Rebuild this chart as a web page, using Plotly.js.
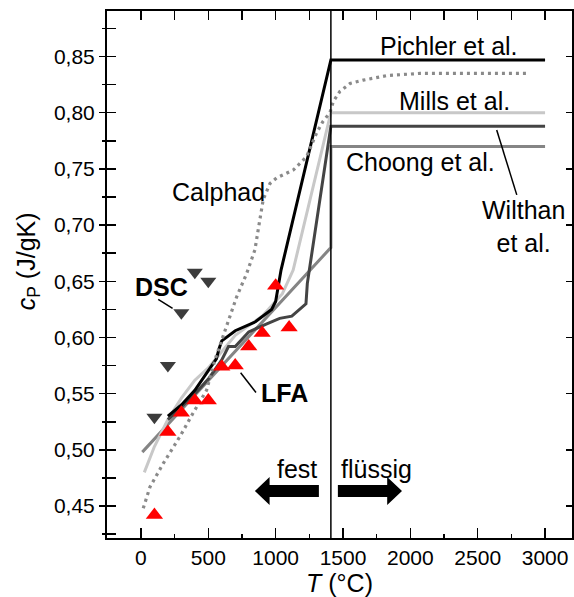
<!DOCTYPE html>
<html><head><meta charset="utf-8">
<script src="https://cdn.plot.ly/plotly-3.0.1.min.js"></script>
<style>html,body{margin:0;padding:0;background:#fff}#chart{width:574px;height:597px}</style>
</head><body><div id="chart"></div>
<script>
// ---- data ----
const lfaT = [100, 200, 300, 400, 500, 600, 700, 800, 900, 1000, 1100];
const lfaCp = [0.442, 0.516, 0.533, 0.544, 0.544, 0.574, 0.575, 0.592, 0.604, 0.646, 0.609];
const dscT = [100, 200, 300, 400, 500];
const dscCp = [0.529, 0.575, 0.622, 0.658, 0.650];
const pichlerT = [200, 300, 400, 500, 560, 580, 600, 700, 850, 970, 1000, 1040, 1410, 3000];
const pichlerCp = [0.530, 0.540, 0.553, 0.570, 0.581, 0.590, 0.597, 0.606, 0.614, 0.625, 0.632, 0.660, 0.847, 0.847];
const millsT = [25, 100, 200, 300, 400, 500, 700, 900, 1050, 1130, 1410, 3000];
const millsCp = [0.480, 0.503, 0.527, 0.546, 0.562, 0.573, 0.602, 0.619, 0.639, 0.660, 0.800, 0.800];
const wilthanT = [200, 300, 400, 500, 600, 650, 700, 800, 930, 1030, 1120, 1180, 1225, 1235, 1410, 3000];
const wilthanCp = [0.527, 0.538, 0.550, 0.563, 0.580, 0.592, 0.592, 0.605, 0.612, 0.617, 0.619, 0.625, 0.630, 0.648, 0.788, 0.788];
const choongT = [10, 1410, 1410, 3000];
const choongCp = [0.498, 0.680, 0.770, 0.770];
const calphadT = [17, 67, 166, 290, 388, 487, 549, 636, 710, 785, 846, 883, 908, 958, 1007, 1131, 1230, 1304, 1350, 1403, 1428, 1477, 1552, 1650, 1824, 2071, 2877];
const calphadCp = [0.448, 0.467, 0.488, 0.512, 0.533, 0.553, 0.580, 0.610, 0.636, 0.657, 0.678, 0.705, 0.723, 0.737, 0.742, 0.749, 0.761, 0.782, 0.792, 0.800, 0.810, 0.819, 0.826, 0.829, 0.833, 0.835, 0.835];
const meltT = 1410;
const xTicks = [0, 500, 1000, 1500, 2000, 2500, 3000];

const FONT = 'Liberation Sans, Arial, sans-serif';
const xr = [-252, 3200];
const yr = [0.4216, 0.8905];

const traces = [
  {x: choongT, y: choongCp, mode: 'lines', line: {color: '#858585', width: 3}},
  {x: millsT, y: millsCp, mode: 'lines', line: {color: '#c8c8c8', width: 3}},
  {x: wilthanT, y: wilthanCp, mode: 'lines', line: {color: '#444444', width: 3}},
  {x: pichlerT, y: pichlerCp, mode: 'lines', line: {color: '#000000', width: 3}},
  {x: calphadT, y: calphadCp, mode: 'lines', line: {color: '#8a8a8a', width: 3.2, dash: '3px,4px'}},
  {x: dscT, y: dscCp, mode: 'markers', marker: {symbol: 'triangle-down', size: 14, color: '#3c3c3c'}},
  {x: lfaT, y: lfaCp, mode: 'markers', marker: {symbol: 'triangle-up', size: 15, color: '#ff0000'}},
  // carriers for the tick-only overlay axes
  {x: [0], y: [0.6], xaxis: 'x2', yaxis: 'y', mode: 'markers', marker: {opacity: 0}, hoverinfo: 'skip'},
  {x: [0], y: [0.6], xaxis: 'x', yaxis: 'y2', mode: 'markers', marker: {opacity: 0}, hoverinfo: 'skip'},
  {x: [0], y: [0.6], xaxis: 'x', yaxis: 'y3', mode: 'markers', marker: {opacity: 0}, hoverinfo: 'skip'}
];
traces.forEach(t => { t.showlegend = false; });

function ann(text, x, y, bold, extra) {
  return Object.assign({text: bold ? '<b>' + text + '</b>' : text, x: x, y: y, xref: 'x', yref: 'y',
    showarrow: false, xanchor: 'center', yanchor: 'middle',
    font: {family: FONT, size: 25, color: '#000'}}, extra || {});
}

const annotations = [
  ann('Pichler et al.', 2290, 0.8593),
  ann('Mills et al.', 2324, 0.8104),
  ann('Choong et al.', 2075, 0.7561),
  ann('Wilthan<br>et al.', 2843, 0.699),
  ann('Calphad', 573, 0.7294),
  ann('DSC', 153, 0.6445, true),
  ann('LFA', 1064, 0.5506, true),
  ann('fest', 1156, 0.4826),
  ann('flüssig', 1752, 0.4826),
  {text: '<i>c</i><sub>P</sub> (J/gK)', xref: 'paper', yref: 'paper', x: -0.17, y: 0.525,
   xanchor: 'center', yanchor: 'middle', textangle: -90, showarrow: false,
   font: {family: FONT, size: 25, color: '#000'}}
];

const lineStyle = {color: '#000', width: 1.5};
const shapes = [
  {type: 'line', xref: 'x', yref: 'paper', x0: meltT, x1: meltT, y0: 0, y1: 1, line: {color: '#000', width: 1.5}},
  {type: 'line', xref: 'x', yref: 'y', x0: 2641, y0: 0.7846, x1: 2790, y1: 0.7269, line: lineStyle},
  {type: 'line', xref: 'x', yref: 'y', x0: 128, y0: 0.634, x1: 235, y1: 0.626, line: lineStyle},
  {type: 'line', xref: 'x', yref: 'y', x0: 740, y0: 0.5687, x1: 854, y1: 0.551, line: lineStyle},
  {type: 'path', xref: 'x', yref: 'y', fillcolor: '#000', line: {width: 0},
   path: 'M846,0.4634 L955,0.4759 L955,0.4687 L1321,0.4687 L1321,0.4581 L955,0.4581 L955,0.4510 Z'},
  {type: 'path', xref: 'x', yref: 'y', fillcolor: '#000', line: {width: 0},
   path: 'M1462,0.4687 L1828,0.4687 L1828,0.4759 L1938,0.4634 L1828,0.4510 L1828,0.4581 L1462,0.4581 Z'}
];

const layout = {
  width: 574, height: 597,
  margin: {l: 107, r: 2, t: 11, b: 59, pad: 0},
  paper_bgcolor: '#fff', plot_bgcolor: '#fff',
  separators: ', ',
  font: {family: FONT, size: 21, color: '#000'},
  xaxis: {
    range: xr, autorange: false, showgrid: false, zeroline: false,
    showline: true, linecolor: '#000', linewidth: 2, mirror: true,
    tickmode: 'array', tickvals: xTicks, ticktext: xTicks.map(String),
    ticks: 'inside', ticklen: 10, tickwidth: 1.5, tickcolor: '#000',
    minor: {dtick: 250, tick0: 0, ticks: 'inside', ticklen: 4, tickwidth: 1.5, tickcolor: '#000'},
    tickfont: {family: FONT, size: 21},
    title: {text: '<i>T</i> (°C)', font: {family: FONT, size: 25}, standoff: 4}
  },
  xaxis2: {
    overlaying: 'x', side: 'top', anchor: 'y', range: xr, autorange: false,
    showgrid: false, zeroline: false, showline: false, showticklabels: false,
    tickmode: 'linear', tick0: 0, dtick: 250,
    ticks: 'inside', ticklen: 9, tickwidth: 1.5, tickcolor: '#000'
  },
  yaxis: {
    range: yr, autorange: false, showgrid: false, zeroline: false,
    showline: true, linecolor: '#000', linewidth: 2, mirror: true,
    tickmode: 'linear', tick0: 0, dtick: 0.05, tickformat: '.2f',
    ticks: 'outside', ticklen: 6, tickwidth: 1.5, tickcolor: '#000',
    minor: {dtick: 0.025, tick0: 0, ticks: 'outside', ticklen: 3, tickwidth: 1.5, tickcolor: '#000'},
    tickfont: {family: FONT, size: 21}
  },
  yaxis2: {
    overlaying: 'y', side: 'left', anchor: 'x', range: yr, autorange: false,
    showgrid: false, zeroline: false, showline: false, showticklabels: false,
    tickmode: 'linear', tick0: 0, dtick: 0.025,
    ticks: 'inside', ticklen: 9, tickwidth: 1.5, tickcolor: '#000'
  },
  yaxis3: {
    overlaying: 'y', side: 'right', anchor: 'x', range: yr, autorange: false,
    showgrid: false, zeroline: false, showline: false, showticklabels: false,
    tickmode: 'linear', tick0: 0, dtick: 0.05,
    ticks: 'inside', ticklen: 6, tickwidth: 1.5, tickcolor: '#000'
  },
  annotations: annotations,
  shapes: shapes,
  showlegend: false
};

Plotly.newPlot('chart', traces, layout, {staticPlot: true, displayModeBar: false});
</script>
</body></html>
